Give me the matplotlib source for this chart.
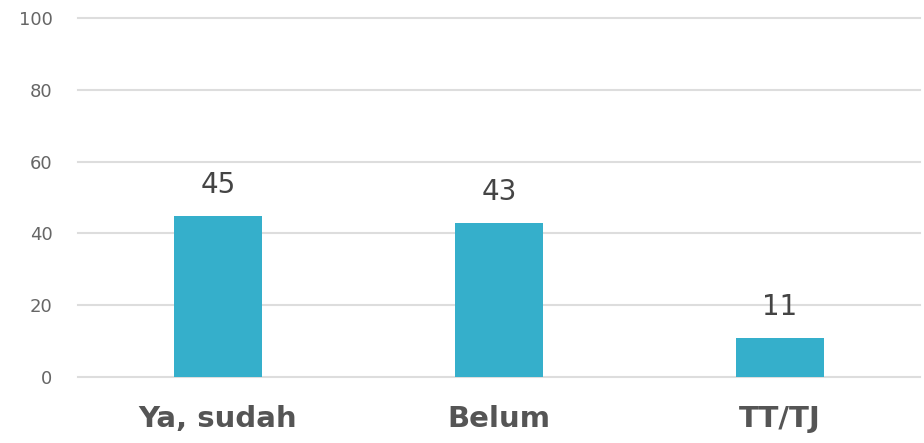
import matplotlib.pyplot as plt

categories = ['Ya, sudah', 'Belum', 'TT/TJ']
values = [45, 43, 11]
yticks = [0, 20, 40, 60, 80, 100]

fig = plt.figure(figsize=(9.24, 4.43), dpi=100)
ax = fig.add_axes([0.084, 0.149, 0.912, 0.81])

x = range(len(categories))
bars = ax.bar(x, values, width=0.313, color='#35AFCB', zorder=3)

for b, v in zip(bars, values):
    ax.annotate(str(v), (b.get_x() + b.get_width() / 2, b.get_height()),
                xytext=(0, 12), textcoords='offset points',
                ha='center', va='bottom', fontsize=20, color='#444444')

ax.set_xlim(-0.5, len(categories) - 0.5)
ax.set_ylim(0, 100)
ax.set_yticks(yticks)
ax.set_xticks(list(x))
ax.set_xticklabels(categories, fontsize=21, fontweight='bold', color='#555555')
ax.grid(axis='y', color='#dddddd', linewidth=1.5, zorder=0)
for gl in ax.get_ygridlines():
    gl.set_clip_on(False)
ax.tick_params(axis='y', length=0, pad=18, labelsize=13, labelcolor='#666666')
ax.tick_params(axis='x', length=0, pad=20)
for s in ax.spines.values():
    s.set_visible(False)

fig.savefig('out.png', dpi=100)
